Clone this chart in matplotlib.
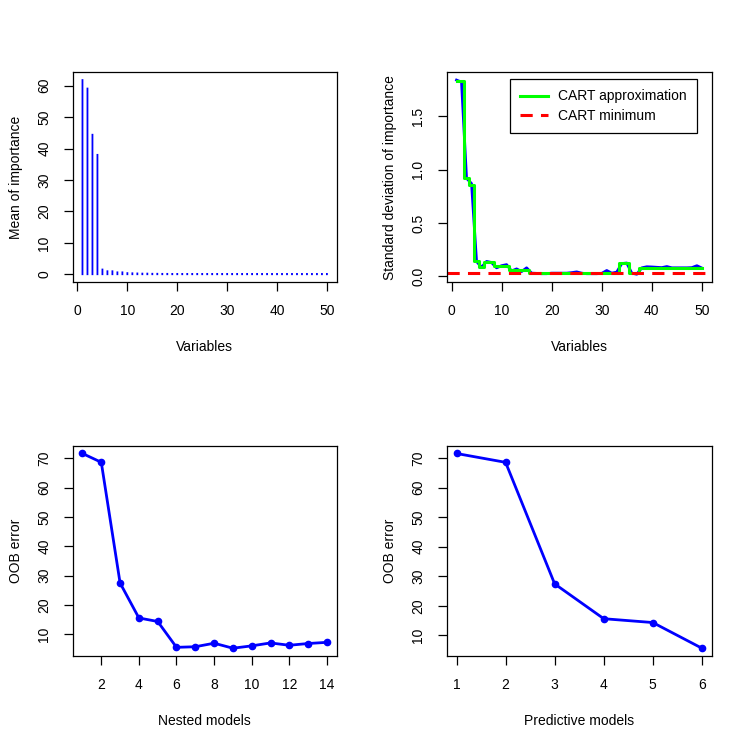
import matplotlib
matplotlib.use("Agg")
import matplotlib.pyplot as plt
import numpy as np

plt.rcParams['font.family'] = ['Liberation Sans', 'DejaVu Sans']
plt.rcParams['font.size'] = 10
plt.rcParams['path.simplify'] = False

# ---- data ----
variables = list(range(1, 51))
imp_mean = [61.8, 59.1, 44.4, 38.0, 1.5, 0.95, 0.95, 0.6, 0.6, 0.35,
            0.3, 0.25, 0.2, 0.2, 0.15, 0.15, 0.12, 0.12, 0.1, 0.1,
            0.1, 0.1, 0.1, 0.1, 0.1, 0.1, 0.1, 0.1, 0.1, 0.1,
            0.1, 0.1, 0.1, 0.1, 0.1, 0.1, 0.1, 0.1, 0.1, 0.1,
            0.1, 0.1, 0.1, 0.1, 0.1, 0.1, 0.1, 0.1, 0.1, 0.1]
imp_sd = [1.84, 1.82, 0.92, 0.87, 0.14, 0.085, 0.14, 0.13, 0.08, 0.10,
          0.11, 0.05, 0.07, 0.045, 0.08, 0.03, 0.028, 0.025, 0.025, 0.03,
          0.03, 0.03, 0.03, 0.035, 0.042, 0.03, 0.025, 0.025, 0.025, 0.028,
          0.055, 0.03, 0.04, 0.12, 0.125, 0.03, 0.02, 0.08, 0.09, 0.088,
          0.085, 0.082, 0.092, 0.08, 0.08, 0.08, 0.08, 0.082, 0.10, 0.078]
cart_pred = [1.83, 1.83, 0.92, 0.86, 0.14, 0.09, 0.135, 0.135, 0.10, 0.10,
             0.10, 0.055, 0.055, 0.055, 0.055] + [0.03] * 18 + \
            [0.125, 0.125, 0.03, 0.03] + [0.08] * 13

nested_models = list(range(1, 15))
nested_err = [71.6, 68.6, 27.5, 15.6, 14.4, 5.6, 5.8, 7.0, 5.3, 6.1,
              7.1, 6.3, 6.9, 7.3]
pred_models = list(range(1, 7))
pred_err = [71.6, 68.6, 27.4, 15.6, 14.3, 5.6]

BLUE = '#0000FF'
GREEN = '#00FF00'
RED = '#FF0000'

fig = plt.figure(figsize=(7.47, 7.47), dpi=100)
W = H = 747.0

def make_ax(x0, y0, x1, y1):
    return fig.add_axes([x0 / W, 1 - y1 / H, (x1 - x0) / W, (y1 - y0) / H])

ax1 = make_ax(72.7, 72.3, 336.7, 282)
ax2 = make_ax(446.7, 72.3, 711.7, 282)
ax3 = make_ax(72.7, 445.7, 336.7, 656)
ax4 = make_ax(446.7, 445.7, 711.7, 656)

def style(ax):
    for s in ax.spines.values():
        s.set_linewidth(0.9)
        s.set_color('black')
    ax.tick_params(axis='both', length=6.5, width=0.9, color='black',
                   labelsize=10)
    ax.tick_params(axis='x', pad=9)
    ax.tick_params(axis='y', pad=9)
    for lab in ax.get_yticklabels():
        lab.set_rotation(90)
        lab.set_va('center')

# Panel 1: mean of importance (type "h" stems)
for xv, yv in zip(variables, imp_mean):
    ax1.plot([xv, xv], [0, yv], color=BLUE, lw=1.3,
             solid_capstyle='projecting', snap=False)
ax1.margins(0.04)
ax1.set_xticks([0, 10, 20, 30, 40, 50])
ax1.set_yticks([0, 10, 20, 30, 40, 50, 60])
ax1.set_xlabel('Variables', labelpad=16)
ax1.set_ylabel('Mean of importance', labelpad=10)

# Panel 2: sd of importance
ax2.plot(variables, imp_sd, color=BLUE, lw=2)
ax2.plot(variables, cart_pred, color=GREEN, lw=2.2, drawstyle='steps-mid',
         label='CART approximation')
ax2.axhline(min(cart_pred), color=RED, lw=2.2, ls=(0, (4, 2.7)),
            label='CART minimum')
ax2.margins(0.04)
ax2.set_xticks([0, 10, 20, 30, 40, 50])
ax2.set_yticks([0.0, 0.5, 1.0, 1.5])
ax2.set_yticklabels(['0.0', '0.5', '1.0', '1.5'])
ax2.set_xlabel('Variables', labelpad=16)
ax2.set_ylabel('Standard deviation of importance', labelpad=10)
leg = ax2.legend(loc='upper right', bbox_to_anchor=(0.9457, 0.968),
                 borderaxespad=0, fancybox=False, frameon=True,
                 edgecolor='black', handlelength=2.0, handletextpad=0.75,
                 borderpad=0.75, labelspacing=0.4, fontsize=10)
leg.get_frame().set_linewidth(0.9)
leg.get_frame().set_alpha(1)

# Panel 3: nested models
ax3.plot(nested_models, nested_err, color=BLUE, lw=2, marker='o', ms=4.5)
ax3.margins(0.04)
ax3.set_xticks([2, 4, 6, 8, 10, 12, 14])
ax3.set_yticks([10, 20, 30, 40, 50, 60, 70])
ax3.set_xlabel('Nested models', labelpad=16)
ax3.set_ylabel('OOB error', labelpad=10)

# Panel 4: predictive models
ax4.plot(pred_models, pred_err, color=BLUE, lw=2, marker='o', ms=4.5)
ax4.margins(0.04)
ax4.set_xticks([1, 2, 3, 4, 5, 6])
ax4.set_yticks([10, 20, 30, 40, 50, 60, 70])
ax4.set_xlabel('Predictive models', labelpad=16)
ax4.set_ylabel('OOB error', labelpad=10)

for ax in (ax1, ax2, ax3, ax4):
    style(ax)

fig.savefig('out.png', dpi=100)
